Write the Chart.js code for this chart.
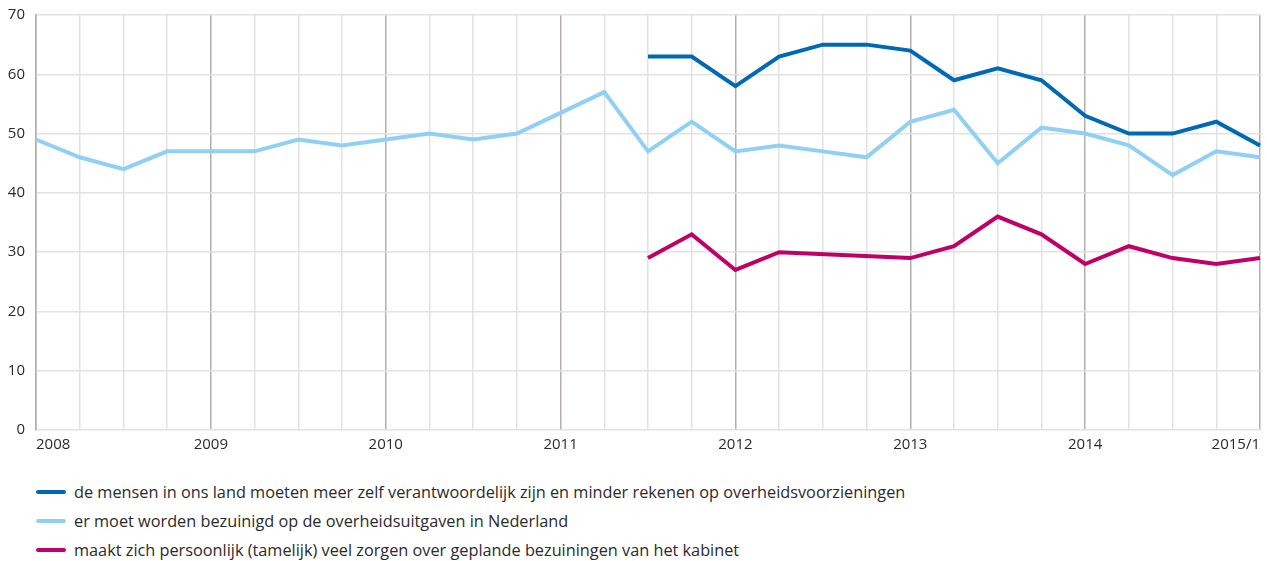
<!DOCTYPE html>
<html>
<head>
<meta charset="utf-8">
<script src="https://cdn.jsdelivr.net/npm/chart.js@4.4.1/dist/chart.umd.min.js"></script>
<style>
  body { margin: 0; background: #fff; font-family: "Open Sans", sans-serif; }
  .chart-box { position: relative; width: 1267px; height: 460px; }
  .legend { margin: 17px 0 0 36px; padding: 0; list-style: none; }
  .legend li { display: flex; align-items: center; height: 29px; font-size: 16.3px; color: #2b2b2b; white-space: nowrap; }
  .legend span.swatch { display: inline-block; width: 30px; height: 4px; border-radius: 2px; margin-right: 8px; }
</style>
</head>
<body>
<div class="chart-box"><canvas id="line_chart"></canvas></div>
<ul class="legend" id="legend"></ul>
<script>
const labels = ["2008", "", "", "", "2009", "", "", "", "2010", "", "", "", "2011", "", "", "",
  "2012", "", "", "", "2013", "", "", "", "2014", "", "", "", "2015/1"];

const seriesNames = [
  "de mensen in ons land moeten meer zelf verantwoordelijk zijn en minder rekenen op overheidsvoorzieningen",
  "er moet worden bezuinigd op de overheidsuitgaven in Nederland",
  "maakt zich persoonlijk (tamelijk) veel zorgen over geplande bezuiningen van het kabinet",
];

const zelfVerantwoordelijk = [null, null, null, null, null, null, null, null, null, null, null, null, null, null,
  63, 63, 58, 63, 65, 65, 64, 59, 61, 59, 53, 50, 50, 52, 48];

const bezuinigen = [49, 46, 44, 47, 47, 47, 49, 48, 49, 50, 49, 50, 53.5, 57,
  47, 52, 47, 48, 47, 46, 52, 54, 45, 51, 50, 48, 43, 47, 46];

const zorgen = [null, null, null, null, null, null, null, null, null, null, null, null, null, null,
  29, 33, 27, 30, null, null, 29, 31, 36, 33, 28, 31, 29, 28, 29];

const colors = ["#0069b4", "#8fd0f4", "#be0068"];

const ctx = document.getElementById("line_chart").getContext("2d");

const mkSet = (i, data) => ({
  label: seriesNames[i],
  data: data,
  borderColor: colors[i],
  backgroundColor: colors[i],
  borderWidth: 4,
  pointRadius: 0,
  tension: 0,
  spanGaps: true,
});

new Chart(ctx, {
  type: "line",
  data: {
    labels: labels,
    datasets: [mkSet(2, zorgen), mkSet(1, bezuinigen), mkSet(0, zelfVerantwoordelijk)],
  },
  options: {
    responsive: true,
    maintainAspectRatio: false,
    animation: false,
    layout: { padding: { top: 15, right: 7, left: 0, bottom: 0 } },
    plugins: { legend: { display: false }, tooltip: { enabled: false } },
    scales: {
      x: {
        offset: false,
        afterFit: (s) => { s.height = 30; },
        grid: {
          drawTicks: false,
          color: (c) => (c.index % 4 === 0 ? "#b5aeb1" : "#e2e2e2"),
          lineWidth: 1.5,
        },
        border: { display: false },
        ticks: {
          autoSkip: false,
          maxRotation: 0,
          align: "inner",
          padding: 6,
          color: "#2b2b2b",
          font: { family: "Open Sans", size: 15 },
        },
      },
      y: {
        min: 0,
        max: 70,
        afterFit: (s) => { s.width = 36; s.paddingTop = 0; s.paddingBottom = 0; },
        grid: { drawTicks: false, color: "#e2e2e2", lineWidth: 1.5 },
        border: { color: "#b5aeb1", width: 1.5 },
        ticks: {
          stepSize: 10,
          padding: 11,
          color: "#2b2b2b",
          font: { family: "Open Sans", size: 15 },
        },
      },
    },
  },
});

const legend = document.getElementById("legend");
seriesNames.forEach((name, i) => {
  const li = document.createElement("li");
  li.innerHTML = '<span class="swatch" style="background:' + colors[i] + '"></span>' + name;
  legend.appendChild(li);
});
</script>
</body>
</html>
